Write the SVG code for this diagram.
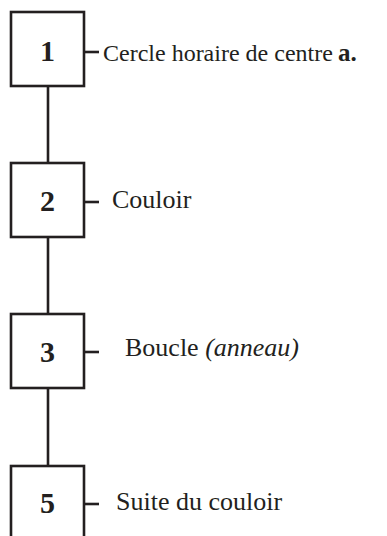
<svg xmlns="http://www.w3.org/2000/svg" width="387" height="536" viewBox="0 0 387 536">
<style>
.box{fill:#fff;stroke:#231f20;stroke-width:2.6}
.ln{stroke:#231f20;stroke-width:2.6;fill:none}
.num{font-family:"Liberation Serif",serif;font-weight:bold;font-size:30px;fill:#231f20;text-anchor:middle}
.lbl{font-family:"Liberation Serif",serif;font-size:26px;fill:#231f20}
.sm{font-size:24px}
.b{font-weight:bold;font-size:25px}
</style>
<rect width="387" height="536" fill="#fff"/>
<g id="connectors">
<line class="ln" x1="48" y1="86" x2="48" y2="163"/>
<line class="ln" x1="48" y1="237" x2="48" y2="314"/>
<line class="ln" x1="48" y1="388" x2="48" y2="466"/>
<line class="ln" x1="84" y1="52" x2="99" y2="52"/>
<line class="ln" x1="84" y1="202" x2="99" y2="202"/>
<line class="ln" x1="84" y1="352" x2="99" y2="352"/>
<line class="ln" x1="84" y1="504" x2="99" y2="504"/>
</g>
<g id="n1">
<rect class="box" x="11" y="12" width="73" height="74"/>
<text class="num" x="47.5" y="61">1</text>
<text class="lbl sm" x="103" y="61">Cercle horaire de centre</text>
<text class="lbl b" x="338" y="61">a.</text>
</g>
<g id="n2">
<rect class="box" x="11" y="163" width="73" height="74"/>
<text class="num" x="47.5" y="211">2</text>
<text class="lbl" x="112" y="208">Couloir</text>
</g>
<g id="n3">
<rect class="box" x="11" y="314" width="73" height="74"/>
<text class="num" x="47.5" y="362">3</text>
<text class="lbl" x="125" y="356">Boucle <tspan font-style="italic">(anneau)</tspan></text>
</g>
<g id="n5">
<rect class="box" x="11" y="466" width="73" height="74"/>
<text class="num" x="47.5" y="513">5</text>
<text class="lbl" x="116" y="510">Suite du couloir</text>
</g>
</svg>
